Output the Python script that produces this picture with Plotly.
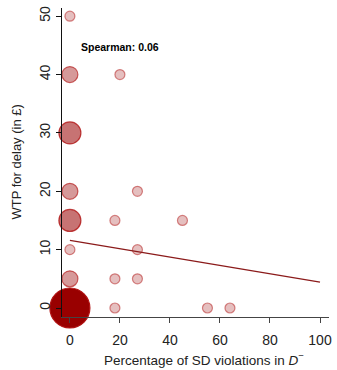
import plotly.graph_objects as go

# Share of SD violations in D- (%) and willingness to pay for delay (GBP)
sd_violations = [0, 0, 20, 0, 0, 27, 0, 18, 45, 0, 27, 0, 18, 27, 0, 18, 55, 64]
wtp_delay = [50, 40, 40, 30, 20, 20, 15, 15, 15, 10, 10, 5, 5, 5, 0, 0, 0, 0]
n_obs = [1, 2, 1, 3, 2, 1, 3, 1, 1, 1, 1, 2, 1, 1, 6, 1, 1, 1]

# Linear fit endpoints
fit_x = [0, 100]
fit_y = [11.6, 4.45]

spearman_label = "Spearman: 0.06"
x_title = "Percentage of SD violations in <i>D</i><sup>−</sup>"
y_title = "WTP for delay (in £)"

sizes = [4 + 6 * n for n in n_obs]
alphas = [min(1.0, 0.1 + 0.15 * n) for n in n_obs]
fills = [f"rgba(153,0,0,{a:.2f})" for a in alphas]
edges = [f"rgba(178,20,20,{min(1.0, a + 0.25):.2f})" for a in alphas]

fig = go.Figure()
fig.add_trace(go.Scatter(
    x=sd_violations, y=wtp_delay, mode="markers",
    marker=dict(size=sizes, color=fills, opacity=1,
                line=dict(color=edges, width=1.2)),
    cliponaxis=False, hoverinfo="skip", showlegend=False,
))
fig.add_trace(go.Scatter(
    x=fit_x, y=fit_y, mode="lines",
    line=dict(color="#8b1a1a", width=1.2),
    hoverinfo="skip", showlegend=False,
))

fig.add_annotation(
    x=3.5, y=44.8, xref="x", yref="y", text=f"<b>{spearman_label}</b>",
    showarrow=False, xanchor="left", yanchor="middle",
    font=dict(family="Liberation Sans, Arial", size=10.5, color="black"),
)

# Axis titles placed as annotations
fig.add_annotation(
    x=0.53, y=0, xref="paper", yref="paper", text=x_title,
    showarrow=False, xanchor="center", yanchor="middle", yshift=-42,
    font=dict(family="Liberation Sans, Arial", size=13.5, color="#222"),
)
fig.add_annotation(
    x=0, y=0.5, xref="paper", yref="paper", text=y_title, textangle=-90,
    showarrow=False, xanchor="center", yanchor="middle", xshift=-46,
    font=dict(family="Liberation Sans, Arial", size=13, color="#222"),
)

tick_font = dict(family="Liberation Sans, Arial", size=14, color="#222")
fig.update_layout(
    width=337, height=370,
    margin=dict(l=62, r=5, t=8, b=53),
    paper_bgcolor="white", plot_bgcolor="white",
    font=tick_font,
    xaxis=dict(
        range=[-3.16, 103.6], tickvals=[0, 20, 40, 60, 80, 100],
        showgrid=False, zeroline=False, showline=True, linecolor="#444", linewidth=1,
        ticks="outside", ticklen=5, tickcolor="#444", ticklabelstandoff=5,
        tickfont=tick_font, layer="above traces",
    ),
    yaxis=dict(
        range=[-1.54, 51.4], tickvals=[0, 10, 20, 30, 40, 50],
        showgrid=False, zeroline=False, showline=True, linecolor="#111", linewidth=1,
        ticks="outside", ticklen=5, tickcolor="#111", tickangle=-90,
        tickfont=tick_font, layer="above traces",
    ),
)

fig.write_html("out.html")
